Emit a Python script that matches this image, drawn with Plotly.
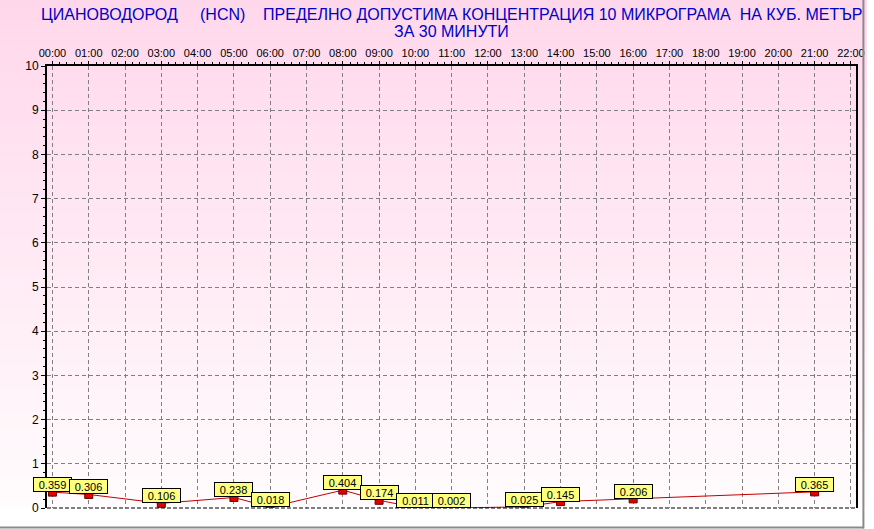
import plotly.graph_objects as go

# ---- data ----
hours = [0, 1, 3, 5, 6, 8, 9, 10, 11, 13, 14, 16, 21]
values = [0.359, 0.306, 0.106, 0.238, 0.018, 0.404, 0.174, 0.011, 0.002, 0.025, 0.145, 0.206, 0.365]
tick_hours = list(range(0, 23))
tick_labels = ["%02d:00" % h for h in tick_hours]
y_ticks = list(range(0, 11))

title_line1 = "ЦИАНОВОДОРОД\u00a0\u00a0\u00a0\u00a0\u00a0(HCN)\u00a0\u00a0\u00a0\u00a0ПРЕДЕЛНО ДОПУСТИМА КОНЦЕНТРАЦИЯ 10 МИКРОГРАМА\u00a0\u00a0НА КУБ. МЕТЪР"
title_line2 = "ЗА 30 МИНУТИ"

W, H = 874, 529
L, R, T, B = 47, 9, 66, 21
plot_h = H - T - B
pw = W - L - R

FONT = "Liberation Sans, Arial, sans-serif"

fig = go.Figure()

# background vertical gradient (pink -> white) using thin bands
shapes = []
n = 64
top_px = 0
bot_px = H - B
c_top = (255, 215, 235)
c_bot = (255, 252, 253)
for i in range(n):
    y0px = top_px + (bot_px - top_px) * i / n
    y1px = top_px + (bot_px - top_px) * (i + 1) / n
    f = (i + 0.5) / n
    col = tuple(round(c_top[k] + (c_bot[k] - c_top[k]) * f) for k in range(3))
    shapes.append(dict(
        type="rect", xref="paper", yref="paper", layer="below",
        x0=-L / pw - 0.01, x1=1 + (R + 2) / pw,
        y0=(H - B - y1px) / plot_h, y1=(H - B - y0px) / plot_h + 0.001,
        line=dict(width=0), fillcolor="rgb(%d,%d,%d)" % col,
    ))

# bottom dashed border of plot
shapes.append(dict(type="line", xref="paper", yref="paper", x0=0, x1=1, y0=0, y1=0,
                   line=dict(color="black", width=1, dash="4px,2px"), layer="above"))
# outer grey frame (bottom and right)
shapes.append(dict(type="line", xref="paper", yref="paper",
                   x0=-L / pw - 0.01, x1=(873 - L) / pw, y0=-(527.5 - (H - B)) / plot_h, y1=-(527.5 - (H - B)) / plot_h,
                   line=dict(color="#8a8a8a", width=2)))
shapes.append(dict(type="line", xref="paper", yref="paper",
                   x0=(872.5 - L) / pw, x1=(872.5 - L) / pw, y0=-(528.5 - (H - B)) / plot_h, y1=(H - B) / plot_h + 0.01,
                   line=dict(color="#8a8a8a", width=2)))

fig.add_trace(go.Scatter(
    x=hours, y=values, mode="lines+markers",
    line=dict(color="#C00000", width=1),
    marker=dict(symbol="square", size=8, color="#E00000", line=dict(color="#700000", width=1)),
    hoverinfo="skip", showlegend=False,
))

annotations = []
for h, v in zip(hours, values):
    annotations.append(dict(
        x=h, y=v, xref="x", yref="y", text="%.3f" % v, showarrow=False,
        xanchor="center", yanchor="bottom", yshift=0,
        font=dict(family=FONT, size=11, color="black"),
        bgcolor="#FFFF80", bordercolor="black", borderwidth=1, borderpad=0,
        width=37, height=13,
    ))

annotations.append(dict(text=title_line1, xref="paper", yref="paper", x=0.5,
                        y=(H - B - 15) / plot_h, xanchor="center", yanchor="middle",
                        showarrow=False, font=dict(family=FONT, size=16, color="#0000C8")))
annotations.append(dict(text=title_line2, xref="paper", yref="paper", x=0.5,
                        y=(H - B - 31) / plot_h, xanchor="center", yanchor="middle",
                        showarrow=False, font=dict(family=FONT, size=16, color="#0000C8")))

fig.update_layout(
    width=W, height=H,
    margin=dict(l=L, r=R, t=T, b=B, pad=0),
    paper_bgcolor="white", plot_bgcolor="rgba(0,0,0,0)",
    shapes=shapes, annotations=annotations,
    font=dict(family=FONT, size=12, color="black"),
)
fig.update_xaxes(
    range=[-0.15, 22.14], side="top",
    tickvals=tick_hours, ticktext=tick_labels,
    tickfont=dict(family=FONT, size=11, color="black"),
    showgrid=True, gridcolor="#808080", griddash="4px,3px", gridwidth=1,
    showline=True, linecolor="black", linewidth=2,
    ticks="outside", ticklen=3, tickcolor="black",
    minor=dict(dtick=0.2, ticks="outside", ticklen=2, tickcolor="black", showgrid=False),
    zeroline=False, fixedrange=True,
)
fig.update_yaxes(
    range=[0, 10], tickvals=y_ticks,
    tickfont=dict(family=FONT, size=12, color="black"),
    showgrid=True, gridcolor="#808080", griddash="4px,3px", gridwidth=1,
    showline=True, linecolor="black", linewidth=2, mirror=True,
    ticks="outside", ticklen=4, tickcolor="black",
    minor=dict(dtick=0.2, ticks="outside", ticklen=2, tickcolor="black", showgrid=False),
    zeroline=False, fixedrange=True,
)

fig.write_html("out.html", config=dict(displayModeBar=False),
               post_script="document.body.style.margin='0';document.body.style.overflow='hidden';")
